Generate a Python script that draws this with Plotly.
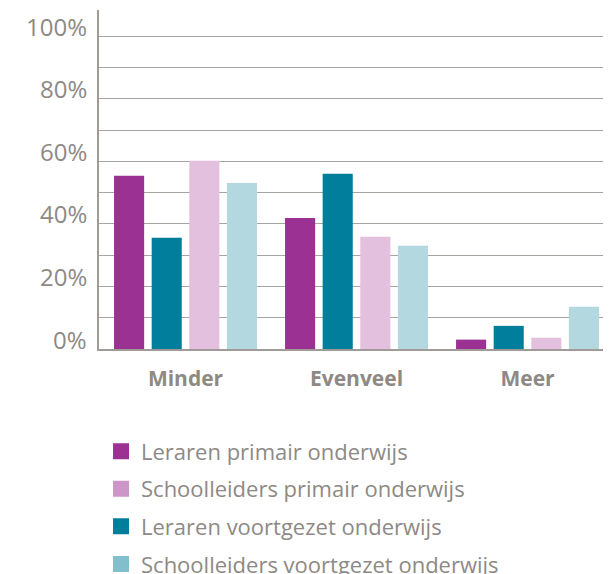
import plotly.graph_objects as go

categories = ["Minder", "Evenveel", "Meer"]
series_names = [
    "Leraren primair onderwijs",
    "Leraren voortgezet onderwijs",
    "Schoolleiders primair onderwijs",
    "Schoolleiders voortgezet onderwijs",
]
values = {
    "Leraren primair onderwijs": [55.4, 41.9, 3.0],
    "Leraren voortgezet onderwijs": [35.6, 56.0, 7.4],
    "Schoolleiders primair onderwijs": [60.2, 35.9, 3.6],
    "Schoolleiders voortgezet onderwijs": [53.1, 33.0, 13.5],
}
bar_colors = {
    "Leraren primair onderwijs": "#9B3192",
    "Leraren voortgezet onderwijs": "#007E9C",
    "Schoolleiders primair onderwijs": "#E2C0DE",
    "Schoolleiders voortgezet onderwijs": "#B3D8E0",
}
legend_order = [
    "Leraren primair onderwijs",
    "Schoolleiders primair onderwijs",
    "Leraren voortgezet onderwijs",
    "Schoolleiders voortgezet onderwijs",
]
legend_colors = {
    "Leraren primair onderwijs": "#9B3192",
    "Schoolleiders primair onderwijs": "#CC96C8",
    "Leraren voortgezet onderwijs": "#007E9C",
    "Schoolleiders voortgezet onderwijs": "#82BFCC",
}
y_ticks = [0, 20, 40, 60, 80, 100]
y_tick_labels = ["0%", "20%", "40%", "60%", "80%", "100%"]

GRAY = "#8E8984"
AXIS = "#A09B96"

fig = go.Figure()
for name in series_names:
    fig.add_trace(go.Bar(
        x=categories, y=values[name], name=name,
        marker=dict(color=bar_colors[name], line=dict(width=0)),
        showlegend=False,
    ))
for i, name in enumerate(legend_order):
    fig.add_trace(go.Scatter(
        x=[None], y=[None], mode="markers", name=name,
        marker=dict(symbol="square", size=16, color=legend_colors[name]),
        legendgroup=name, legendrank=i + 1,
    ))

# y tick labels sit just above their gridlines
for v, lab in zip(y_ticks, y_tick_labels):
    fig.add_annotation(
        x=0, xref="paper", y=v, yref="y", text=lab, showarrow=False,
        xanchor="right", yanchor="middle", xshift=-10, yshift=10,
        font=dict(size=24, color=GRAY, family="Open Sans"),
    )

# page body has an 8px default margin: figure is sized to fill the rest
fig.update_layout(
    width=603, height=566,
    margin=dict(l=91, r=5, t=2, b=225, autoexpand=False),
    plot_bgcolor="white", paper_bgcolor="white",
    barmode="group", bargap=0.12, bargroupgap=0.2,
    font=dict(family="Open Sans", color=GRAY),
    legend=dict(
        x=0.004, y=-0.24, xanchor="left", yanchor="top",
        font=dict(size=22, color=GRAY, family="Open Sans"),
        traceorder="grouped", tracegroupgap=6,
        itemwidth=30,
    ),
    shapes=[dict(type="line", xref="paper", yref="y", x0=1, x1=1, y0=0, y1=2.7,
                 line=dict(color=AXIS, width=2))],
)
fig.update_xaxes(
    range=[-0.506, 2.459],
    showline=True, linecolor=AXIS, linewidth=2,
    showgrid=False, ticks="", automargin=False,
    tickfont=dict(size=21, color=GRAY, family="Open Sans", weight="bold"),
    ticklabelstandoff=10,
)
fig.update_yaxes(
    range=[0, 108.4],
    showline=True, linecolor=AXIS, linewidth=2,
    tickmode="array", tickvals=y_ticks, showticklabels=False,
    showgrid=True, gridcolor="#A8A4A0", gridwidth=1,
    minor=dict(dtick=10, showgrid=True, gridcolor="#A8A4A0", gridwidth=1),
    zeroline=False, ticks="", automargin=False,
)
fig.write_html("out.html")
